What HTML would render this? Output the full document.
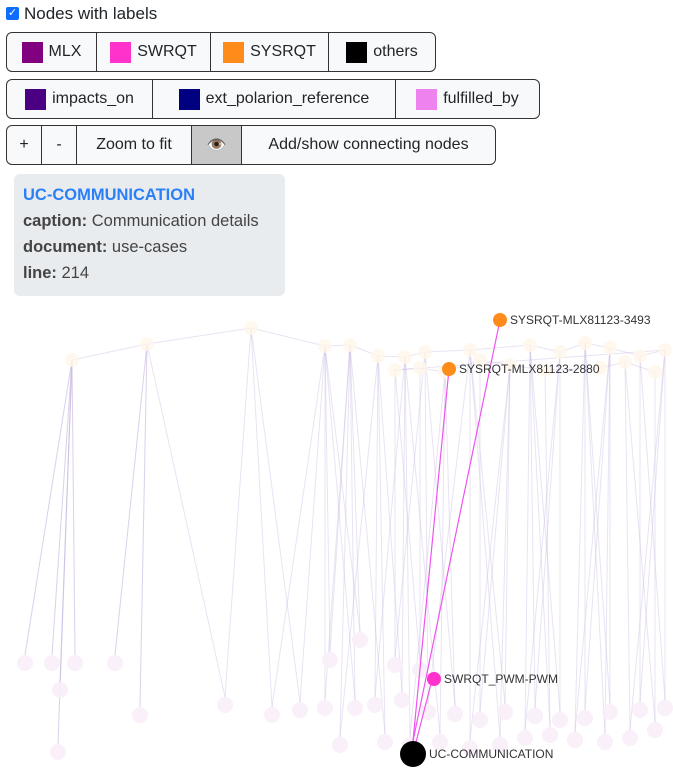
<!DOCTYPE html>
<html><head><meta charset="utf-8"><style>
body{margin:0;width:673px;height:781px;overflow:hidden;background:#fff;font-family:"Liberation Sans",sans-serif;color:#212529;position:relative}
.cb{position:absolute;left:6px;top:7px;width:13px;height:13px;background:#0d6efd;border-radius:2px;color:#fff;font-size:11px;line-height:13px;text-align:center}
.lbl{position:absolute;left:24px;top:4px;font-size:17px}
.grp{position:absolute;left:6px;height:38px;display:flex;border:1px solid #333;border-radius:6px;overflow:hidden;background:#f8f9fa}
.grp div{border-right:1px solid #333;display:flex;align-items:center;justify-content:center;font-size:16px;box-sizing:border-box}
.grp div:last-child{border-right:none}
.sw{width:21px;height:21px;margin-right:6px;display:inline-block}
.info{position:absolute;left:14px;top:174px;width:271px;height:122px;background:#e9ecef;border-radius:6px;font-size:16.5px;color:#444}
.info p{margin:0;position:absolute;left:9px}
svg{position:absolute;left:0;top:0}
</style></head><body>
<svg width="673" height="781" id="g"></svg>
<div class="cb">✓</div>
<div class="lbl">Nodes with labels</div>
<div class="grp" style="top:32px;width:428px">
<div style="width:90px"><span class="sw" style="background:#800080"></span>MLX</div>
<div style="width:114px"><span class="sw" style="background:#ff33cc"></span>SWRQT</div>
<div style="width:118px"><span class="sw" style="background:#ff8c1a"></span>SYSRQT</div>
<div style="width:106px"><span class="sw" style="background:#000"></span>others</div>
</div>
<div class="grp" style="top:79px;width:532px">
<div style="width:146px"><span class="sw" style="background:#4b0082"></span>impacts_on</div>
<div style="width:243px"><span class="sw" style="background:#000080"></span>ext_polarion_reference</div>
<div style="width:143px"><span class="sw" style="background:#ee82ee"></span>fulfilled_by</div>
</div>
<div class="grp" style="top:125px;width:488px">
<div style="width:35px">+</div>
<div style="width:35px">-</div>
<div style="width:115px">Zoom to fit</div>
<div style="width:50px;background:#c8c8c8">👁️</div>
<div style="width:253px">Add/show connecting nodes</div>
</div>
<div class="info">
<p style="top:12px;color:#2b7ff7;font-weight:bold">UC-COMMUNICATION</p>
<p style="top:38px"><b>caption:</b> Communication details</p>
<p style="top:64px"><b>document:</b> use-cases</p>
<p style="top:90px"><b>line:</b> 214</p>
</div>
<script>
const topX=[72,147,251,325,350,378,405,425,470,530,560,585,610,640,665,395,420,445,480,510,545,600,625,655];
const topY=[360,344,328,346,345,356,357,352,350,345,352,343,348,356,350,370,368,372,360,365,370,368,362,372];
const botX=[25,52,75,115,60,140,225,272,300,325,355,375,402,428,455,480,505,535,560,585,610,640,665,340,385,410,440,470,500,525,550,575,605,630,655,330,360,395,420,58];
const botY=[663,663,663,663,690,715,705,715,710,708,708,705,700,712,714,720,712,716,720,718,712,710,708,745,742,745,742,748,745,738,735,740,742,738,730,660,640,665,670,752];
const hiNodes=[["SYSRQT-MLX81123-3493",500,320,7,"#ff8c1a"],["SYSRQT-MLX81123-2880",449,369,7,"#ff8c1a"],["SWRQT_PWM-PWM",434,679,7,"#ff33cc"],["UC-COMMUNICATION",413,754,13,"#000"]];
const hiEdges=[[0,3],[1,3],[3,2]];
const g=document.getElementById('g');const NS='http://www.w3.org/2000/svg';
function mk(t,a){const e=document.createElementNS(NS,t);for(const k in a)e.setAttribute(k,a[k]);g.appendChild(e);return e;}
function nearestTop(x,off){let best=0,bd=1e9;for(let j=0;j<topX.length;j++){const d=Math.abs(topX[j]-x-off);if(d<bd){bd=d;best=j;}}return best;}
for(let i=0;i<botX.length;i++){[0,(i%2?30:-30)].forEach(off=>{const j=nearestTop(botX[i],off);const l=mk('line',{x1:topX[j],y1:topY[j],x2:botX[i],y2:botY[i]-8,stroke:'#c8b8e0','stroke-opacity':0.4,'stroke-width':1});

});}
for(let i=0;i<topX.length-1;i++){const l=mk('line',{x1:topX[i],y1:topY[i],x2:topX[i+1],y2:topY[i+1],stroke:'#c8b8e0','stroke-opacity':0.4});

}
for(let i=0;i<topX.length;i++){const c=mk('circle',{cx:topX[i],cy:topY[i],r:7,fill:'#fff6ea','fill-opacity':0.8});

}
for(let i=0;i<botX.length;i++){const c=mk('circle',{cx:botX[i],cy:botY[i],r:8,fill:'#f8eef8','fill-opacity':0.9});

}
hiEdges.forEach(e=>{const a=hiNodes[e[0]],b=hiNodes[e[1]];const l=mk('line',{x1:a[1],y1:a[2],x2:b[1],y2:b[2]-b[3],stroke:'#ee55ee','stroke-width':1.2});

});
hiNodes.forEach(n=>{const c=mk('circle',{cx:n[1],cy:n[2],r:n[3],fill:n[4]});


const t=mk('text',{x:n[1]+n[3]+3,y:n[2]+4,'font-size':12,fill:'#333','font-family':'Liberation Sans,sans-serif'});t.textContent=n[0];

});
</script>
</body></html>
